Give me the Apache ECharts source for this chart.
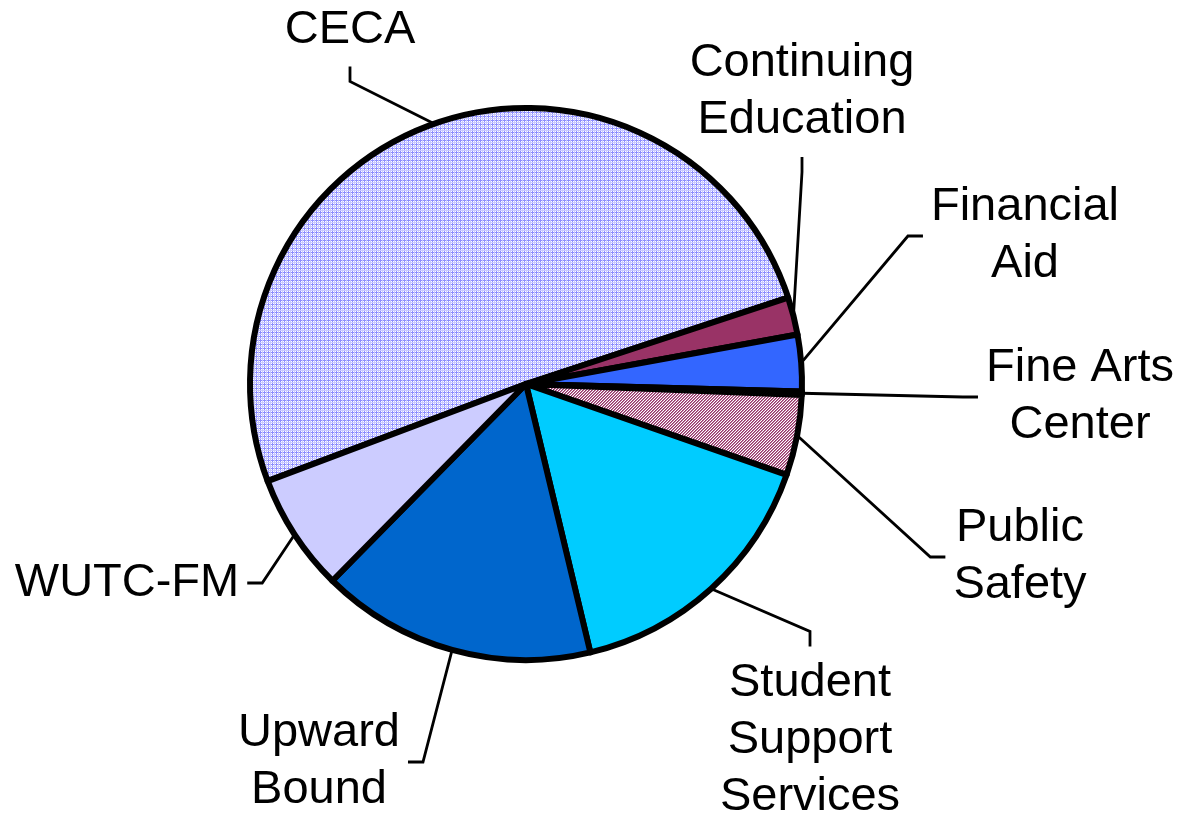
<!DOCTYPE html>
<html>
<head>
<meta charset="utf-8">
<script src="https://cdn.jsdelivr.net/npm/echarts@6/dist/echarts.min.js"></script>
<style>
  html, body { margin: 0; padding: 0; background: #fff; }
  #chart { width: 1188px; height: 816px; }
</style>
</head>
<body>
<div id="chart"></div>
<script>
// slices, in drawing order (clockwise from CECA)
const categories = ['CECA', 'Continuing\nEducation', 'Financial\nAid', 'Fine Arts\nCenter',
  'Public\nSafety', 'Student\nSupport\nServices', 'Upward\nBound', 'WUTC-FM'];
const values = [50.6, 2.2, 3.3, 0.2, 4.7, 15.9, 16.1, 6.9];

// where each label sits and which side its leader line comes in from
const labelPos = [[350, 30], [802, 92], [1025, 236], [1080, 397], [1020, 557], [810, 740], [319, 762], [127, 583]];
const labelSide = ['bottom', 'bottom', 'left', 'left', 'left', 'top', 'right', 'right'];

// small fill textures like the office chart
function makePattern(size, draw) {
  const c = document.createElement('canvas');
  c.width = c.height = size;
  const ctx = c.getContext('2d');
  ctx.fillStyle = '#ffffff';
  ctx.fillRect(0, 0, size, size);
  draw(ctx);
  return { image: c, repeat: 'repeat' };
}
const gridFill = makePattern(4, ctx => {
  ctx.fillStyle = '#8c8cff';
  ctx.fillRect(0, 0, 4, 1);
  ctx.fillRect(0, 0, 1, 4);
  ctx.fillStyle = '#c8c8ff';
  ctx.fillRect(0, 2, 4, 1);
  ctx.fillRect(2, 0, 1, 4);
});
const hatchFill = makePattern(3, ctx => {
  for (let x = 0; x < 3; x++) {
    for (let y = 0; y < 3; y++) {
      const k = (x + y) % 3;
      if (k === 0) { ctx.fillStyle = '#993366'; ctx.fillRect(x, y, 1, 1); }
      if (k === 1) { ctx.fillStyle = '#b87aa0'; ctx.fillRect(x, y, 1, 1); }
    }
  }
});
const fills = [gridFill, '#993366', '#3366ff', '#000000', hatchFill, '#00ccff', '#0066cc', '#ccccff'];

const myChart = echarts.init(document.getElementById('chart'), null, { renderer: 'canvas' });

const option = {
  animation: false,
  series: [{
    type: 'pie',
    center: [526, 384],
    radius: 276,
    startAngle: 200.6,
    clockwise: true,
    avoidLabelOverlap: false,
    emphasis: { disabled: true },
    itemStyle: { borderColor: '#000', borderWidth: 6 },
    label: {
      show: true,
      position: 'outside',
      color: '#000',
      fontFamily: 'Liberation Sans, Arial, sans-serif',
      fontSize: 47,
      lineHeight: 57,
      align: 'center'
    },
    labelLine: {
      show: true,
      length: 2,
      length2: 2,
      lineStyle: { color: '#000', width: 2.8 }
    },
    labelLayout: function (params) {
      const i = params.dataIndex;
      const x = labelPos[i][0], y = labelPos[i][1];
      const w = params.labelRect.width, h = params.labelRect.height;
      const gap = 8, tick = 15;
      let end, elbow;
      switch (labelSide[i]) {
        case 'bottom': end = [x, y + h / 2 + gap]; elbow = [x, end[1] + tick]; break;
        case 'top': end = [x, y - h / 2 - gap]; elbow = [x, end[1] - tick]; break;
        case 'left': end = [x - w / 2 - gap, y]; elbow = [end[0] - tick, y]; break;
        default: end = [x + w / 2 + gap, y]; elbow = [end[0] + tick, y];
      }
      return {
        x: x, y: y, align: 'center', verticalAlign: 'middle',
        labelLinePoints: [params.labelLinePoints[0], elbow, end]
      };
    },
    data: categories.map((name, i) => ({ name: name, value: values[i], itemStyle: { color: fills[i] } }))
  }]
};
myChart.setOption(option);
</script>
</body>
</html>
